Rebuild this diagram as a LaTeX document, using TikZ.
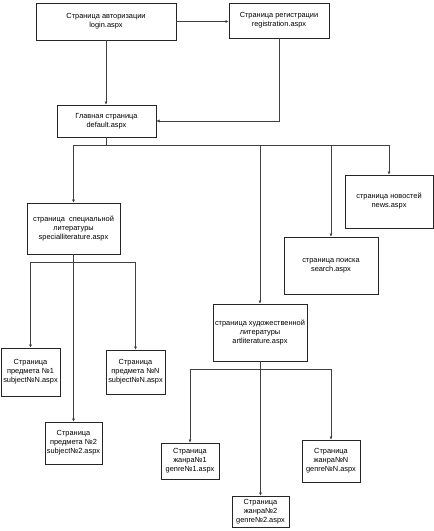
\documentclass[tikz,border=0pt]{standalone}
\usepackage{fontspec}
\setmainfont{Liberation Sans}
\usetikzlibrary{arrows.meta,shadows}
\begin{document}
\begin{tikzpicture}[x=1pt,y=-1pt,
  pagebox/.style={draw=black!85,line width=0.6pt,fill=white,align=center,
    inner sep=1pt,font=\fontsize{7.4}{9}\selectfont,
    drop shadow={shadow xshift=0.8pt,shadow yshift=-0.8pt,fill=black!45,opacity=1}},
  link/.style={draw=black!75,line width=0.5pt},
  arr/.style={link,-{Latex[length=3.2pt,width=3.2pt]}}]
\useasboundingbox (0,0) rectangle (434,531);
\node[pagebox,minimum width=140pt,minimum height=37pt] (login) at (106,21.5) {Страница авторизации\\login.aspx};
\node[pagebox,minimum width=100pt,minimum height=35pt] (reg) at (279,20.5) {Страница регистрации\\registration.aspx};
\node[pagebox,minimum width=99pt,minimum height=32pt] (def) at (106.5,121) {Главная страница\\default.aspx};
\node[pagebox,minimum width=93pt,minimum height=51pt] (spec) at (73.5,228.5) {страница\ \ специальной\\литературы\\specialliterature.aspx};
\node[pagebox,minimum width=88pt,minimum height=53pt] (news) at (389,201.5) {страница новостей\\news.aspx};
\node[pagebox,minimum width=94pt,minimum height=57pt] (search) at (331,265.5) {страница поиска\\search.aspx};
\node[pagebox,minimum width=94pt,minimum height=57pt] (art) at (260,332.5) {страница художественной\\литературы\\artliterature.aspx};
\node[pagebox,minimum width=59pt,minimum height=48pt] (s1) at (30.5,372) {Страница\\предмета №1\\subject№N.aspx};
\node[pagebox,minimum width=59pt,minimum height=44pt] (sN) at (135.5,372) {Страница\\предмета №N\\subject№N.aspx};
\node[pagebox,minimum width=57pt,minimum height=42pt] (s2) at (73.5,443) {Страница\\предмета №2\\subject№2.aspx};
\node[pagebox,minimum width=58pt,minimum height=36pt] (g1) at (190,461) {Страница\\жанра№1\\genre№1.aspx};
\node[pagebox,minimum width=58pt,minimum height=42pt] (gN) at (331,461) {Страница\\жанра№N\\genre№N.aspx};
\node[pagebox,minimum width=57pt,minimum height=31pt] (g2) at (260.5,511.5) {Страница\\жанра№2\\genre№2.aspx};
\coordinate (busA) at (0,145);
\coordinate (busB) at (0,262);
\coordinate (busC) at (0,369);
\draw[arr] (login.east) -- (login.east -| reg.west);
\draw[arr] (login.south) -- (login.south |- def.north);
\draw[arr] (reg.south) |- (def.east);
\draw[link] (def.south) -- (def.south |- busA);
\draw[link] (busA -| spec.north) -- (busA -| news.north);
\foreach \n in {spec,news,search,art} \draw[arr] (busA -| \n.north) -- (\n.north);
\draw[link] (spec.south) -- (spec.south |- busB);
\draw[link] (busB -| s1.north) -- (busB -| sN.north);
\foreach \n in {s1,s2,sN} \draw[arr] (busB -| \n.north) -- (\n.north);
\draw[link] (art.south) -- (art.south |- busC);
\draw[link] (busC -| g1.north) -- (busC -| gN.north);
\foreach \n in {g1,g2,gN} \draw[arr] (busC -| \n.north) -- (\n.north);
\end{tikzpicture}
\end{document}
